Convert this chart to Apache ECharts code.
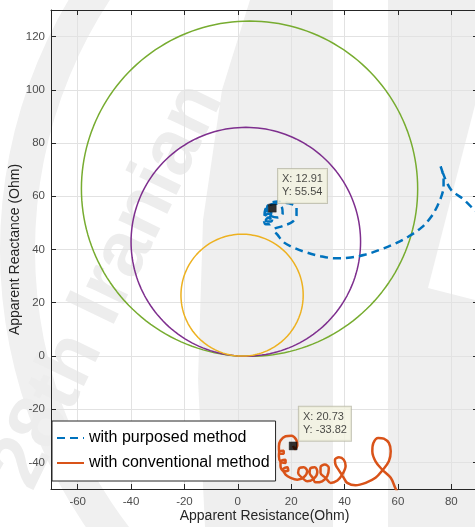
<!DOCTYPE html>
<html><head><meta charset="utf-8">
<script src="https://cdn.jsdelivr.net/npm/echarts@6/dist/echarts.min.js"></script>
<style>html,body{margin:0;padding:0;background:#fff;}#c{width:475px;height:527px;}</style>
</head><body><div id="c"></div>
<script>
// ---- tick labels ----
const xTicks = [-60, -40, -20, 0, 20, 40, 60, 80];
const yTicks = [-40, -20, 0, 20, 40, 60, 80, 100, 120];

// ---- mho zone characteristics (reach in Ohm along line angle) ----
const zoneReach = [126.0, 86.0, 45.8];
const lineAngleDeg = 86;

// ---- impedance trajectory, purposed method (R, X in Ohm) ----
const purposedR = [95.0, 89.9, 87.3, 84.6, 82.0, 80.1, 78.3, 76.8, 76.0, 77.1, 77.1, 76.4, 74.9, 72.6, 68.9, 64.0, 59.1, 53.5, 47.9, 42.3, 36.6, 31.0, 25.4, 20.5, 17.1, 14.9, 13.4, 17.1, 20.5, 22.0, 22.0, 19.8, 17.5,
  15.0, 12.5, 11.0, 11.0, 12.5, 15.0, 16.8, 16.5, 14.5, 12.0, 10.3, 10.0, 11.0, 12.5, 13.0, 12.0, 10.5, 9.8, 10.5, 12.0, 12.5, 11.5, 10.5, 11.2, 12.2, 12.91];
const purposedX = [49.5, 53.9, 56.2, 58.8, 60.7, 62.2, 65.2, 68.9, 71.2, 66.7, 63.7, 60.3, 56.6, 52.5, 48.3, 44.9, 42.3, 40.0, 38.1, 37.0, 36.7, 37.5, 39.0, 40.9, 42.8, 45.5, 47.4, 48.9, 50.4, 53.0, 55.7, 57.2, 57.6,
  58.0, 57.5, 56.0, 54.0, 52.5, 52.0, 53.5, 56.0, 57.2, 56.8, 55.0, 52.5, 50.5, 50.5, 52.0, 53.5, 53.0, 51.0, 49.5, 49.5, 51.0, 52.0, 51.0, 50.2, 52.5, 55.54];

// ---- impedance trajectory, conventional method (R, X in Ohm) ----
const conventionalR = [61.5, 59.1, 57.3, 54.1, 51.6, 50.4, 50.8, 52.6, 54.7, 56.6, 57.3, 56.6, 54.1, 51.6, 47.9, 44.1, 41.0,
  39.7, 37.9, 36.6, 36.4, 37.9, 39.7, 40.4, 39.1, 37.3, 34.8,
  32.9, 31.0, 31.0, 32.6, 34.1, 33.5, 31.6, 29.1,
  28.1, 26.9, 27.3, 28.9, 29.8, 28.5, 26.0,
  24.1, 22.6, 23.1, 24.7, 26.0, 24.7, 22.3,
  19.8, 17.9, 16.9, 18.5, 18.9, 17.2, 16.0, 16.0, 17.9, 17.9, 16.0, 15.4, 15.6, 17.2, 17.2, 15.6, 15.4, 16.0, 17.9, 20.1, 21.9, 22.3, 21.4, 20.73];
const conventionalX = [-54.0, -49.8, -45.8, -42.7, -39.6, -35.8, -32.7, -30.8, -31.1, -32.7, -35.8, -39.6, -43.1, -45.8, -47.7, -48.6, -47.7,
  -45.8, -43.0, -40.8, -39.0, -38.1, -39.0, -41.4, -44.6, -46.8, -47.7,
  -45.8, -44.0, -41.8, -40.8, -42.1, -45.2, -47.1, -47.5,
  -45.8, -44.0, -42.1, -41.8, -43.6, -46.1, -47.1,
  -45.8, -44.0, -42.1, -41.8, -43.3, -45.6, -46.5,
  -45.8, -44.6, -42.7, -41.8, -43.1, -43.3, -41.4, -39.6, -39.0, -40.2, -39.8, -37.7, -35.8, -35.6, -36.8, -36.5, -33.9, -31.8, -30.2, -30.0, -31.5, -33.6, -35.0, -33.82];

// ---- data tips ----
const tipR = [12.91, 20.73];
const tipX = [55.54, -33.82];

const seriesNames = ['with purposed method', 'with conventional method'];

function zip(a, b) { return a.map((v, i) => [v, b[i]]); }
function mhoCircle(reach) {
  const a = lineAngleDeg * Math.PI / 180, r = reach / 2;
  const cx = r * Math.cos(a), cy = r * Math.sin(a);
  const pts = [];
  for (let k = 0; k <= 360; k += 2) {
    const t = k * Math.PI / 180;
    pts.push([cx + r * Math.cos(t), cy + r * Math.sin(t)]);
  }
  return pts;
}

const zoneColors = ['#77AC30', '#7E2F8E', '#EDB120'];
const axisColor = '#262626';
const font = 'Liberation Sans, Arial, Helvetica, sans-serif';

const chart = echarts.init(document.getElementById('c'), null, { renderer: 'canvas' });

function axisCommon(ticks, isMain) {
  return {
    type: 'value',
    axisLine: { show: true, onZero: false, lineStyle: { color: axisColor, width: 1 } },
    axisTick: { show: true, inside: true, length: 5, customValues: ticks, lineStyle: { color: axisColor } },
    axisLabel: { show: isMain, customValues: ticks, color: '#4d4d4d', fontSize: 11.5, fontFamily: font },
    splitLine: { show: isMain, lineStyle: { color: '#e2e2e2', width: 1 } }
  };
}

const xMain = Object.assign(axisCommon(xTicks, true), {
  min: -70, max: 90, position: 'bottom',
  name: 'Apparent Resistance(Ohm)', nameLocation: 'middle', nameGap: 20, nameMoveOverlap: false,
  nameTextStyle: { fontSize: 14, color: axisColor, fontFamily: font }
});
xMain.axisLabel.margin = 7;
const xTop = Object.assign(axisCommon(xTicks, false), { min: -70, max: 90, position: 'top' });
const yMain = Object.assign(axisCommon(yTicks, true), {
  min: -50, max: 130, position: 'left',
  name: 'Apparent Reactance (Ohm)', nameLocation: 'middle', nameGap: 29, nameMoveOverlap: false,
  nameTextStyle: { fontSize: 14, color: axisColor, fontFamily: font }
});
yMain.axisLabel.margin = 6;
const yRight = Object.assign(axisCommon(yTicks, false), { min: -50, max: 130, position: 'right' });

const series = [];
zoneReach.forEach((reach, i) => {
  series.push({
    type: 'line', name: 'zone' + (i + 1), data: mhoCircle(reach), showSymbol: false, symbol: 'none',
    lineStyle: { color: zoneColors[i], width: 1.5 }, silent: true, z: 2
  });
});
series.push({
  type: 'line', name: seriesNames[0], data: zip(purposedR, purposedX), showSymbol: false, symbol: 'none',
  smooth: 0.35, clip: true, color: '#0072BD',
  lineStyle: { color: '#0072BD', width: 2.5, type: [8, 5] }, z: 3
});
series.push({
  type: 'line', name: seriesNames[1], data: zip(conventionalR, conventionalX), showSymbol: false, symbol: 'none',
  smooth: 0.35, clip: true, color: '#D95319',
  lineStyle: { color: '#D95319', width: 2.5 }, z: 3
});
series.push({
  type: 'scatter', name: 'tips', data: zip(tipR, tipX), symbol: 'rect', symbolSize: 8,
  itemStyle: { color: '#000', borderColor: '#222', borderWidth: 0.5 }, z: 10, silent: true,
  label: {
    show: true, position: [10, -35], align: 'left', verticalAlign: 'top',
    formatter: p => 'X: ' + p.value[0].toFixed(2) + '\nY: ' + p.value[1].toFixed(2),
    backgroundColor: '#F2F2E0', borderColor: '#B9B9A6', borderWidth: 1,
    padding: [4, 4, 4, 4], fontSize: 11, lineHeight: 13, color: '#1a1a1a', fontFamily: font
  }
});

chart.setOption({
  animation: false,
  backgroundColor: '#ffffff',
  grid: { left: 51, right: -3, top: 10, bottom: 38, containLabel: false, outerBoundsMode: 'none' },
  xAxis: [xMain, xTop],
  yAxis: [yMain, yRight],
  legend: {
    data: seriesNames, orient: 'vertical', left: 52, top: 421, selectedMode: false,
    backgroundColor: '#ffffff', borderColor: axisColor, borderWidth: 1,
    padding: [9, 6, 10, 4], itemWidth: 27, itemHeight: 14, itemGap: 9,
    itemStyle: { opacity: 0 },
    textStyle: { fontSize: 16, color: '#000', fontFamily: font, lineHeight: 16 }, z: 8
  },
  graphic: { elements: [
    { type: 'polygon', z: -10, silent: true, shape: { points: [[250, 0], [333, 0], [333, 527], [205, 527], [198, 380], [203, 220], [222, 90]] }, style: { fill: '#efefef' } },
    { type: 'polygon', z: -10, silent: true, shape: { points: [[388, 0], [475, 0], [475, 527], [388, 527]] }, style: { fill: '#efefef' } },
    { type: 'polygon', z: -9, silent: true, shape: { points: [[475, 105], [475, 300], [428, 288]] }, style: { fill: '#ffffff' } },
    { type: 'ring', z: -10, silent: true, shape: { cx: 490, cy: 250, r: 490, r0: 455 }, style: { fill: '#f0f0f0' } },
    { type: 'text', z: -9, silent: true, x: 48, y: 500, rotation: 1.12, style: { text: '28th Iranian', fontSize: 78, fontWeight: 'bold', fill: '#ededed', fontFamily: font, verticalAlign: 'bottom' } }
  ] },
  series: series
});
</script></body></html>
